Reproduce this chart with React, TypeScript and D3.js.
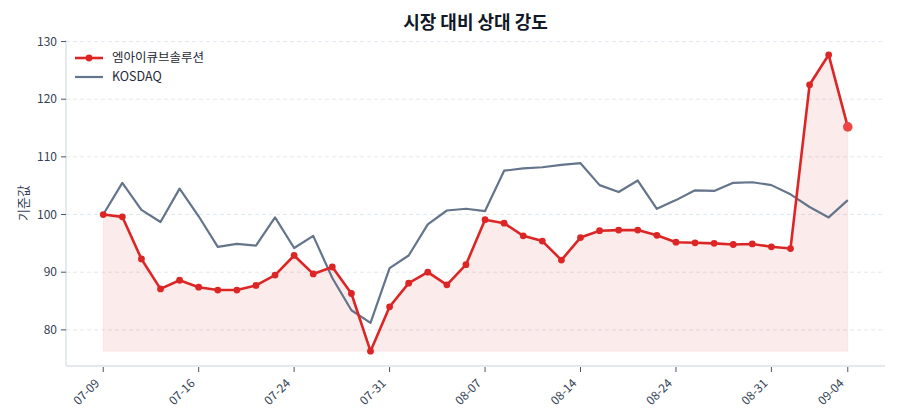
import React from 'react';
import * as d3 from 'd3';

const width = 900;
const height = 420;
const margin = {top: 40, right: 15, bottom: 54, left: 66};
const red = '#dc2626';
const redLast = '#ef4444';
const slate = '#64748b';
const font = '"Noto Sans CJK KR", "Noto Sans", sans-serif';

const dates = [
  '07-09', '07-10', '07-11', '07-14', '07-15', '07-16', '07-17', '07-18', '07-21', '07-22',
  '07-24', '07-25', '07-28', '07-29', '07-30', '07-31', '08-01', '08-04', '08-05', '08-06',
  '08-07', '08-08', '08-11', '08-12', '08-13', '08-14', '08-18', '08-19', '08-20', '08-21',
  '08-24', '08-25', '08-26', '08-27', '08-28', '08-31', '09-01', '09-02', '09-03', '09-04',
];

const stock = [
  100, 99.6, 92.3, 87.1, 88.6, 87.4, 86.9, 86.9, 87.7, 89.5,
  92.9, 89.7, 90.9, 86.3, 76.3, 84.0, 88.1, 90.0, 87.8, 91.3,
  99.1, 98.5, 96.3, 95.4, 92.1, 96.0, 97.2, 97.3, 97.3, 96.4,
  95.2, 95.1, 95.0, 94.8, 94.9, 94.4, 94.1, 122.5, 127.7, 115.2,
];

const kosdaq = [
  100, 105.5, 100.8, 98.7, 104.5, 99.7, 94.4, 94.9, 94.6, 99.5,
  94.2, 96.3, 89.0, 83.4, 81.2, 90.7, 92.9, 98.3, 100.7, 101.0,
  100.6, 107.6, 108.0, 108.2, 108.6, 108.9, 105.1, 103.9, 105.9, 101.0,
  102.5, 104.2, 104.1, 105.5, 105.6, 105.1, 103.5, 101.3, 99.5, 102.5,
];

const yTicks = [80, 90, 100, 110, 120, 130];
const xTickIdx = [0, 5, 10, 15, 20, 25, 30, 35, 39];

const App: React.FC = () => {
  const n = dates.length;
  // matplotlib-like 5% padding on both axes
  const xPad = (n - 1) * 0.05;
  const xScale = d3.scaleLinear()
    .domain([-xPad, n - 1 + xPad])
    .range([margin.left, width - margin.right]);

  const all = [...stock, ...kosdaq];
  const lo = d3.min(all) as number;
  const hi = d3.max(all) as number;
  const yPad = (hi - lo) * 0.05;
  const yScale = d3.scaleLinear()
    .domain([lo - yPad, hi + yPad])
    .range([height - margin.bottom, margin.top]);

  const stockMin = d3.min(stock) as number;

  const line = d3.line<number>()
    .x((_, i) => xScale(i))
    .y(d => yScale(d));

  const area = d3.area<number>()
    .x((_, i) => xScale(i))
    .y0(yScale(stockMin))
    .y1(d => yScale(d));

  const x0 = margin.left;
  const x1 = width - margin.right;
  const yBottom = height - margin.bottom;

  return (
    <svg width={width} height={height} style={{position: 'absolute', left: 0, top: 0, fontFamily: font}}>
      <rect width={width} height={height} fill='#fff' />

      {yTicks.map(t => (
        <line key={t} x1={x0} x2={x1} y1={yScale(t)} y2={yScale(t)}
          stroke='#e2e8f0' strokeDasharray='4,3' strokeWidth='1' />
      ))}

      <path d={area(stock) || ''} fill={red} fillOpacity='0.09' stroke={red} strokeOpacity='0.06' />
      <path d={line(kosdaq) || ''} fill='none' stroke={slate} strokeWidth='2.2' strokeLinejoin='round' />
      <path d={line(stock) || ''} fill='none' stroke={red} strokeWidth='2.6' strokeLinejoin='round' />
      {stock.slice(0, -1).map((v, i) => (
        <circle key={i} cx={xScale(i)} cy={yScale(v)} r='3.4' fill={red} />
      ))}
      <circle cx={xScale(n - 1)} cy={yScale(stock[n - 1])} r='4.8' fill={redLast} />

      <line x1={x0} x2={x0} y1={margin.top} y2={yBottom} stroke='#cbd5e1' />
      <line x1={x0} x2={x1} y1={yBottom} y2={yBottom} stroke='#dde1e8' strokeWidth='1.5' />

      {yTicks.map(t => (
        <g key={t} transform={`translate(${x0}, ${yScale(t)})`}>
          <line x1='-5' x2='0' stroke='#475569' strokeWidth='1' />
          <text x='-9' dy='0.35em' textAnchor='end' fontSize='12' fill='#334155'>{t}</text>
        </g>
      ))}

      {xTickIdx.map(i => (
        <g key={i} transform={`translate(${xScale(i)}, ${yBottom})`}>
          <line y1='1' y2='6' stroke='#475569' strokeWidth='1' />
          <text transform='translate(-3, 18) rotate(-45)' textAnchor='end' fontSize='12' fill='#334155'>
            {dates[i]}
          </text>
        </g>
      ))}

      <text transform={`translate(28, ${(margin.top + yBottom) / 2}) rotate(-90)`}
        textAnchor='middle' fontSize='13' fill='#334155'>기준값</text>

      <text x={(x0 + x1) / 2} y='29' textAnchor='middle' fontSize='18' fontWeight='bold' fill='#111827'>
        시장 대비 상대 강도
      </text>

      <g transform='translate(75, 58)'>
        <line x1='0' x2='28' stroke={red} strokeWidth='2.6' />
        <circle cx='14' r='3.4' fill={red} />
        <text x='37' dy='0.35em' fontSize='12.5' fill='#1f2937'>엠아이큐브솔루션</text>
      </g>
      <g transform='translate(75, 77)'>
        <line x1='0' x2='28' stroke={slate} strokeWidth='2.2' />
        <text x='37' dy='0.35em' fontSize='12.5' fill='#1f2937'>KOSDAQ</text>
      </g>
    </svg>
  );
};

export default App;
